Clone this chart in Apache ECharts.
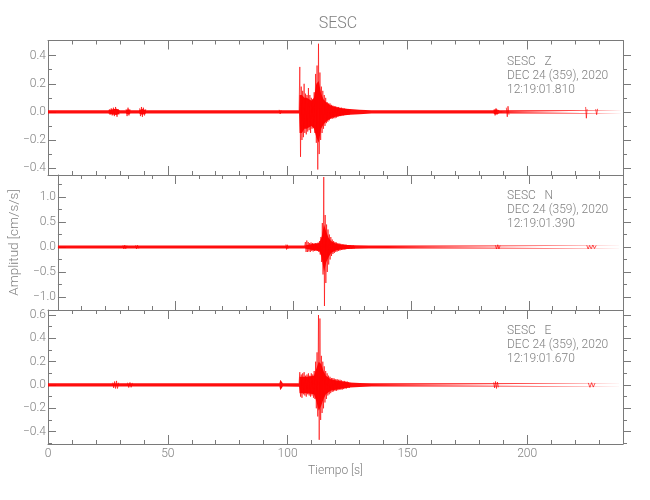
<!DOCTYPE html>
<html><head><meta charset="utf-8">
<script src="https://cdn.jsdelivr.net/npm/echarts@6/dist/echarts.min.js"></script>
<style>html,body{margin:0;padding:0;background:#fff}#c{width:650px;height:500px}</style>
</head><body><div id="c"></div><script>
const chartTitle = 'SESC';
const componentLabels = ['SESC   Z', 'SESC   N', 'SESC   E'];
const dateLabels = ['DEC 24 (359), 2020', 'DEC 24 (359), 2020', 'DEC 24 (359), 2020'];
const startTimeLabels = ['12:19:01.810', '12:19:01.390', '12:19:01.670'];
const xAxisName = 'Tiempo [s]';
const yAxisName = 'Amplitud [cm/s/s]';

const timeRange = [0, 240];
const timeTicks = [0, 50, 100, 150, 200];
const timeTickLabels = ['0', '50', '100', '150', '200'];
const timeMinorTicks = [10, 20, 30, 40, 60, 70, 80, 90, 110, 120, 130, 140, 160, 170, 180, 190, 210, 220, 230];

const zRange = [-0.449, 0.508];
const zTicks = [-0.4, -0.2, 0, 0.2, 0.4];
const zTickLabels = ['\u22120.4', '\u22120.2', '0.0', '0.2', '0.4'];
const zMinorTicks = [-0.3, -0.1, 0.1, 0.3];

const nRange = [-1.26, 1.44];
const nTicks = [-1.0, -0.5, 0, 0.5, 1.0];
const nTickLabels = ['\u22121.0', '\u22120.5', '0.0', '0.5', '1.0'];
const nMinorTicks = [-0.75, -0.25, 0.25, 0.75, 1.25];

const eRange = [-0.506, 0.643];
const eTicks = [-0.4, -0.2, 0, 0.2, 0.4, 0.6];
const eTickLabels = ['\u22120.4', '\u22120.2', '0.0', '0.2', '0.4', '0.6'];
const eMinorTicks = [-0.5, -0.3, -0.1, 0.1, 0.3, 0.5];

// dense-trace envelope (time s, upper, lower)
const zEnvT = [0, 25, 27, 28.5, 30, 32.5, 33.5, 34.5, 38, 39.3, 41, 104.8, 105.0, 106, 107, 108, 109, 110, 111, 112, 113, 114, 115, 116, 118, 120, 123, 126, 130, 135, 185.8, 187, 188.5, 240];
const zEnvU = [0.012, 0.012, 0.018, 0.022, 0.012, 0.012, 0.018, 0.012, 0.012, 0.02, 0.012, 0.012, 0.12, 0.12, 0.1, 0.1, 0.09, 0.08, 0.1, 0.2, 0.22, 0.13, 0.09, 0.07, 0.045, 0.035, 0.025, 0.02, 0.016, 0.012, 0.012, 0.018, 0.012, 0.012];
const zEnvL = [-0.012, -0.012, -0.018, -0.022, -0.012, -0.012, -0.018, -0.012, -0.012, -0.02, -0.012, -0.012, -0.15, -0.15, -0.12, -0.12, -0.11, -0.1, -0.12, -0.18, -0.22, -0.12, -0.09, -0.07, -0.045, -0.035, -0.025, -0.02, -0.016, -0.012, -0.012, -0.018, -0.012, -0.012];

const nEnvT = [0, 104.8, 105.0, 108, 111, 112, 113, 114, 115, 116, 118, 120, 123, 126, 132, 140, 240];
const nEnvU = [0.03, 0.03, 0.07, 0.06, 0.08, 0.2, 0.45, 0.3, 0.18, 0.12, 0.07, 0.05, 0.04, 0.035, 0.032, 0.03, 0.03];
const nEnvL = [-0.03, -0.03, -0.07, -0.06, -0.08, -0.2, -0.5, -0.3, -0.2, -0.12, -0.07, -0.05, -0.04, -0.035, -0.032, -0.03, -0.03];

const eEnvT = [0, 96.6, 97.0, 97.6, 98.0, 104.8, 105.0, 108, 111, 112, 113, 114, 115, 116, 118, 120, 123, 126, 130, 135, 240];
const eEnvU = [0.014, 0.014, 0.045, 0.045, 0.014, 0.015, 0.07, 0.07, 0.08, 0.14, 0.2, 0.18, 0.12, 0.08, 0.05, 0.04, 0.03, 0.022, 0.017, 0.014, 0.014];
const eEnvL = [-0.014, -0.014, -0.045, -0.045, -0.014, -0.015, -0.07, -0.07, -0.08, -0.14, -0.22, -0.18, -0.12, -0.08, -0.05, -0.04, -0.03, -0.022, -0.017, -0.014, -0.014];

// small bursts outside the main event (time s, value; null separates bursts)
const zBurstT = [25.6, 25.9, 26.4, 26.8, 27.3, 27.7, 28.2, 28.5, 28.8, 29.2, 29.6, 30, 32.6, 33.0, 33.4, 33.8, 34.2, 35, 38.2, 38.6, 39.0, 39.4, 39.8, 40.3, 40.8, 41, 96.5, 96.9, 97.3, 98, 186.2, 186.6, 187.0, 187.5, 188, 191.3, 191.7, 192.0, 192.4, 193, 224.4, 224.7, 225.0, 226, 228.6, 229.0, 229.4];
const zBurstV = [0.02, -0.02, 0.025, -0.025, 0.03, -0.03, 0.035, 0.04, -0.035, 0.02, -0.02, null, 0.02, -0.03, 0.03, -0.025, 0.02, null, 0.025, -0.03, 0.035, -0.035, 0.03, -0.025, 0.02, null, 0.015, -0.015, 0.012, null, 0.02, -0.025, 0.025, -0.02, null, 0.03, -0.035, 0.04, -0.02, null, 0.035, -0.045, 0.02, null, 0.02, -0.02, 0.022];
const nBurstT = [27.6, 28.0, 28.4, 28.8, 29.3, 30, 33.0, 33.4, 33.8, 34.3, 35, 96.8, 97.1, 97.4, 97.7, 98, 185.8, 186.3, 186.8, 187.3, 187.8, 188, 224.6, 225.2, 225.8, 226.5, 227.2, 227.9, 228.6];
const nBurstV = [0.035, -0.04, 0.04, -0.035, 0.03, null, 0.035, -0.04, 0.035, -0.03, null, 0.05, -0.05, 0.045, -0.04, null, 0.035, -0.04, 0.045, -0.04, 0.03, null, 0.035, -0.04, 0.03, -0.035, 0.04, -0.03, 0.03];
const eBurstT = [27.0, 27.4, 27.8, 28.2, 28.6, 29.0, 29.5, 30, 33.2, 33.7, 34.2, 34.7, 35.2, 36, 186.0, 186.4, 186.8, 187.2, 187.6, 188.0, 189, 225.5, 226.2, 226.9, 227.6, 228.3];
const eBurstV = [0.02, -0.025, 0.03, -0.03, 0.035, -0.03, 0.02, null, 0.02, -0.022, 0.022, -0.02, 0.018, null, 0.022, -0.025, 0.03, -0.03, 0.025, -0.02, null, 0.018, -0.02, 0.02, -0.018, 0.016];

// event peaks, sampled every peakStep s from peakStart
const peakStart = 104.8;
const peakStep = 0.3;
const zPeaks = [0.01, 0.32, -0.32, 0.18, -0.2, 0.15, -0.18, 0.2, -0.15, 0.13, -0.16, 0.12, -0.14, 0.17, -0.13, 0.12, -0.15, 0.1, -0.12, 0.09, -0.11, 0.14, -0.15, 0.27, -0.22, 0.33, -0.41, 0.485, -0.3, 0.28, -0.2, 0.18, -0.15, 0.15, -0.12, 0.12, -0.1, 0.1, -0.08, 0.07, -0.07, 0.06, -0.06, 0.06, -0.05, 0.05, -0.05, 0.045, -0.045, 0.04, -0.045, 0.04, -0.04, 0.035, -0.035, 0.035, -0.03, 0.03, -0.03, 0.03, -0.025, 0.028, -0.025, 0.025, -0.022, 0.022, -0.02, 0.02, -0.02, 0.018, -0.018, 0.015];
const nPeaks = [0.02, 0.1, -0.1, 0.13, -0.1, 0.1, -0.09, 0.08, -0.1, 0.09, -0.08, 0.08, -0.09, 0.07, -0.08, 0.08, -0.07, 0.07, -0.08, 0.09, -0.1, 0.12, -0.15, 0.2, -0.3, 0.48, -0.55, 1.40, -1.18, 0.64, -0.72, 0.45, -0.5, 0.35, -0.35, 0.25, -0.25, 0.2, -0.18, 0.15, -0.14, 0.12, -0.12, 0.1, -0.1, 0.09, -0.09, 0.08, -0.08, 0.07, -0.07, 0.065, -0.06, 0.06, -0.055, 0.05, -0.05, 0.05, -0.045, 0.045, -0.04, 0.04, -0.04, 0.04, -0.035, 0.035, -0.035, 0.03, -0.03, 0.03, -0.03, 0.025];
const ePeaks = [0.015, 0.11, -0.1, 0.09, -0.11, 0.1, -0.08, 0.11, -0.09, 0.08, -0.1, 0.09, -0.08, 0.1, -0.09, 0.08, -0.1, 0.1, -0.09, 0.09, -0.11, 0.12, -0.12, 0.2, -0.2, 0.28, -0.27, 0.6, -0.47, 0.57, -0.3, 0.25, -0.24, 0.2, -0.2, 0.16, -0.15, 0.12, -0.12, 0.1, -0.09, 0.08, -0.08, 0.07, -0.07, 0.06, -0.06, 0.06, -0.055, 0.055, -0.05, 0.05, -0.05, 0.05, -0.045, 0.045, -0.04, 0.045, -0.04, 0.04, -0.04, 0.035, -0.035, 0.035, -0.03, 0.03, -0.03, 0.03, -0.025, 0.025, -0.025, 0.02];

const FONT = 'Roboto, "Liberation Sans", sans-serif';
const AXIS_COLOR = '#7a7a7a';
const TEXT_COLOR = '#808080';
const TRACE = '#ff0000';
const plotLeft = 48, plotWidth = 575;
const panelTops = [40.5, 175, 310];
const panelHeights = [134.5, 135, 134];

const panels = [
  { range: zRange, ticks: zTicks, labels: zTickLabels, minor: zMinorTicks, envT: zEnvT, envU: zEnvU, envL: zEnvL, peaks: zPeaks, burstT: zBurstT, burstV: zBurstV },
  { range: nRange, ticks: nTicks, labels: nTickLabels, minor: nMinorTicks, envT: nEnvT, envU: nEnvU, envL: nEnvL, peaks: nPeaks, burstT: nBurstT, burstV: nBurstV },
  { range: eRange, ticks: eTicks, labels: eTickLabels, minor: eMinorTicks, envT: eEnvT, envU: eEnvU, envL: eEnvL, peaks: ePeaks, burstT: eBurstT, burstV: eBurstV }
];

function labelFor(ticks, labels) {
  return function (v) {
    for (let i = 0; i < ticks.length; i++) if (Math.abs(ticks[i] - v) < 1e-9) return labels[i];
    return '';
  };
}

const grids = [], xAxes = [], yAxes = [], series = [], graphics = [];

panels.forEach((p, g) => {
  grids.push({ left: plotLeft, width: plotWidth, top: panelTops[g], height: panelHeights[g], containLabel: false });
  const isBottom = g === panels.length - 1;
  const base = { type: 'value', gridIndex: g, min: timeRange[0], max: timeRange[1], splitLine: { show: false } };
  xAxes.push(Object.assign({}, base, {
    position: 'bottom',
    axisLine: { show: true, onZero: false, lineStyle: { color: AXIS_COLOR, width: 1 } },
    axisTick: { show: true, inside: true, length: 9, customValues: timeTicks, lineStyle: { color: AXIS_COLOR } },
    axisLabel: { show: isBottom, customValues: timeTicks, formatter: labelFor(timeTicks, timeTickLabels), margin: 4, color: TEXT_COLOR, fontFamily: FONT, fontWeight: 300, fontSize: 12 },
    name: isBottom ? xAxisName : '', nameLocation: 'middle', nameGap: 21,
    nameTextStyle: { color: TEXT_COLOR, fontFamily: FONT, fontWeight: 300, fontSize: 12 }
  }));
  xAxes.push(Object.assign({}, base, {
    position: 'bottom',
    axisLine: { show: false, onZero: false },
    axisTick: { show: true, inside: true, length: 4, customValues: timeMinorTicks, lineStyle: { color: AXIS_COLOR } },
    axisLabel: { show: false }
  }));
  xAxes.push(Object.assign({}, base, {
    position: 'top',
    axisLine: { show: true, onZero: false, lineStyle: { color: AXIS_COLOR, width: 1 } },
    axisTick: { show: true, inside: true, length: 9, customValues: timeTicks, lineStyle: { color: AXIS_COLOR } },
    axisLabel: { show: false }
  }));
  xAxes.push(Object.assign({}, base, {
    position: 'top',
    axisLine: { show: false, onZero: false },
    axisTick: { show: true, inside: true, length: 4, customValues: timeMinorTicks, lineStyle: { color: AXIS_COLOR } },
    axisLabel: { show: false }
  }));

  const ybase = { type: 'value', gridIndex: g, min: p.range[0], max: p.range[1], splitLine: { show: false } };
  yAxes.push(Object.assign({}, ybase, {
    position: 'left',
    axisLine: { show: true, onZero: false, lineStyle: { color: AXIS_COLOR, width: 1 } },
    axisTick: { show: true, inside: true, length: 8, customValues: p.ticks, lineStyle: { color: AXIS_COLOR } },
    axisLabel: { show: true, customValues: p.ticks, formatter: labelFor(p.ticks, p.labels), margin: 2, color: TEXT_COLOR, fontFamily: FONT, fontWeight: 300, fontSize: 12 },
    name: g === 1 ? yAxisName : '', nameLocation: 'middle', nameGap: 33,
    nameTextStyle: { color: TEXT_COLOR, fontFamily: FONT, fontWeight: 300, fontSize: 13.5 }
  }));
  yAxes.push(Object.assign({}, ybase, {
    position: 'left',
    axisLine: { show: false, onZero: false },
    axisTick: { show: true, inside: true, length: 4, customValues: p.minor, lineStyle: { color: AXIS_COLOR } },
    axisLabel: { show: false }
  }));
  // right-side axes: tick direction comes out flipped here, so "inside: false" points them into the plot
  yAxes.push(Object.assign({}, ybase, {
    position: 'right',
    axisLine: { show: true, onZero: false, lineStyle: { color: AXIS_COLOR, width: 1 } },
    axisTick: { show: true, inside: false, length: 8, customValues: p.ticks, lineStyle: { color: AXIS_COLOR } },
    axisLabel: { show: false }
  }));
  yAxes.push(Object.assign({}, ybase, {
    position: 'right',
    axisLine: { show: false, onZero: false },
    axisTick: { show: true, inside: false, length: 4, customValues: p.minor, lineStyle: { color: AXIS_COLOR } },
    axisLabel: { show: false }
  }));

  const xi = g * 4, yi = g * 4;
  const common = { type: 'line', xAxisIndex: xi, yAxisIndex: yi, symbol: 'none', silent: true, animation: false, clip: true, z: 1, connectNulls: false };
  series.push(Object.assign({}, common, {
    data: p.envT.map((t, i) => [t, p.envU[i]]),
    lineStyle: { width: 0, opacity: 0 },
    areaStyle: { color: TRACE, opacity: 0.95, origin: 'auto' }
  }));
  series.push(Object.assign({}, common, {
    data: p.envT.map((t, i) => [t, p.envL[i]]),
    lineStyle: { width: 0, opacity: 0 },
    areaStyle: { color: TRACE, opacity: 0.95, origin: 'auto' }
  }));
  series.push(Object.assign({}, common, {
    data: p.burstT.map((t, i) => [t, p.burstV[i] === null ? '-' : p.burstV[i]]),
    lineStyle: { color: TRACE, width: 0.9, opacity: 0.75 }
  }));
  series.push(Object.assign({}, common, {
    data: p.peaks.map((v, k) => [peakStart + k * peakStep, v]),
    lineStyle: { color: TRACE, width: 0.9, opacity: 0.7 }
  }));

  const lines = [componentLabels[g], dateLabels[g], startTimeLabels[g]];
  lines.forEach((txt, i) => {
    graphics.push({
      type: 'text', x: 507, y: panelTops[g] + 21 + 14.2 * i, silent: true,
      style: { text: txt, fill: TEXT_COLOR, font: '300 12px ' + FONT, textAlign: 'left', textVerticalAlign: 'middle' }
    });
  });
});

graphics.push({
  type: 'text', x: 338, y: 23.5, silent: true,
  style: { text: chartTitle, fill: TEXT_COLOR, font: '300 16px ' + FONT, textAlign: 'center', textVerticalAlign: 'middle' }
});

const chart = echarts.init(document.getElementById('c'), null, { renderer: 'canvas' });
chart.setOption({
  backgroundColor: '#ffffff',
  animation: false,
  grid: grids,
  xAxis: xAxes,
  yAxis: yAxes,
  series: series,
  graphic: graphics
});
</script></body></html>
